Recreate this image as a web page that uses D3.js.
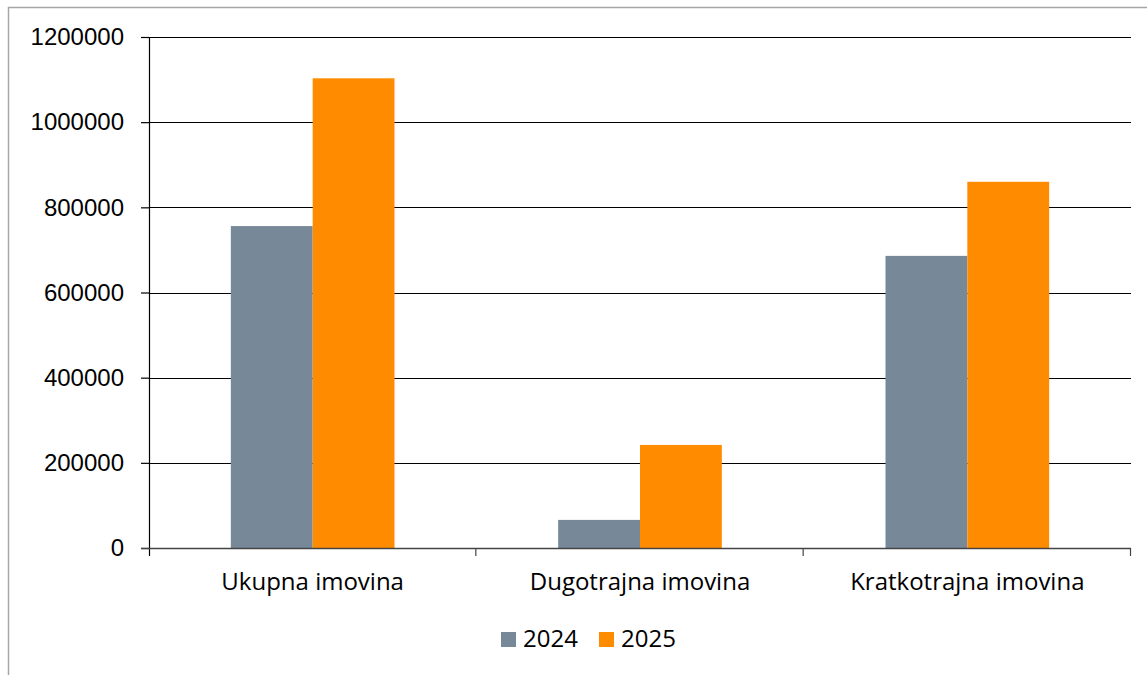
<!DOCTYPE html>
<html>
<head>
<meta charset="utf-8">
<script src="https://cdn.jsdelivr.net/npm/d3@7"></script>
<style>
  html, body { margin: 0; padding: 0; background: #fff; }
  svg { display: block; }
  .ytick { font-family: "Liberation Sans", Arial, sans-serif; font-size: 24px; fill: #000; }
  .xlab, .leg { font-family: "Open Sans", "Liberation Sans", sans-serif; font-size: 24px; fill: #000; }
</style>
</head>
<body>
<svg id="chart"></svg>
<script>
// ---------- Data ----------
const categories = ["Ukupna imovina", "Dugotrajna imovina", "Kratkotrajna imovina"];
const seriesNames = ["2024", "2025"];
const values2024 = [756000, 66000, 686000];
const values2025 = [1103000, 242000, 860000];
const yTicks = [0, 200000, 400000, 600000, 800000, 1000000, 1200000];
const colors = ["#778899", "#FF8C00"];

// ---------- Layout ----------
const W = 1147, H = 675;
const M = { t: 37, r: 16, b: 127, l: 149 };
const iw = W - M.l - M.r, ih = H - M.t - M.b;

const svg = d3.select("#chart").attr("width", W).attr("height", H);

// outer frame (top + left visible)
svg.append("rect").attr("x", 8.5).attr("y", 7.5).attr("width", W + 10).attr("height", H + 10)
  .attr("fill", "none").attr("stroke", "#a6a6a6").attr("stroke-width", 1.5);

const g = svg.append("g").attr("transform", `translate(${M.l},${M.t})`);

const x0 = d3.scaleBand().domain(categories).range([0, iw]).paddingInner(0).paddingOuter(0);
const x1 = d3.scaleBand().domain(seriesNames).range([0, x0.bandwidth()]).paddingInner(0).paddingOuter(1);
const y = d3.scaleLinear().domain([0, 1200000]).range([ih, 0]);

// gridlines
g.append("g").selectAll("line").data(yTicks.filter(d => d > 0)).enter().append("line")
  .attr("x1", 0).attr("x2", iw)
  .attr("y1", d => Math.round(y(d)) + 0.5).attr("y2", d => Math.round(y(d)) + 0.5)
  .attr("stroke", "#000").attr("stroke-width", 1.2);

// bars
const rows = categories.map((c, i) => ({ cat: c, vals: [values2024[i], values2025[i]] }));
const cat = g.selectAll(".cat").data(rows).enter().append("g")
  .attr("transform", d => `translate(${x0(d.cat)},0)`);
seriesNames.forEach((s, k) => {
  cat.append("rect")
    .attr("x", x1(s))
    .attr("width", x1.bandwidth())
    .attr("y", d => y(d.vals[k]))
    .attr("height", d => ih - y(d.vals[k]))
    .attr("fill", colors[k]);
});

// y axis
const yAxis = g.append("g").call(d3.axisLeft(y).tickValues(yTicks).tickSize(8).tickSizeOuter(0).tickFormat(d3.format("d")).tickPadding(17));
yAxis.select(".domain").attr("stroke", "#000").attr("stroke-width", 1.2);
yAxis.selectAll(".tick line").attr("stroke", "#000").attr("stroke-width", 1.2);
yAxis.selectAll(".tick text").attr("class", "ytick").attr("font-size", null).attr("font-family", null);
yAxis.select(".domain").attr("d", `M0.5,0V${ih + 8}`);

// x axis
const xg = g.append("g").attr("transform", `translate(0,${ih})`);
xg.append("line").attr("x1", -8).attr("x2", iw).attr("y1", 0.5).attr("y2", 0.5)
  .attr("stroke", "#444").attr("stroke-width", 1.5);
const edges = categories.map(c => x0(c)).concat([iw]);
xg.selectAll(".xt").data(edges.slice(1)).enter().append("line")
  .attr("x1", d => d - 0.5).attr("x2", d => d - 0.5).attr("y1", 0).attr("y2", 8)
  .attr("stroke", "#444").attr("stroke-width", 1.2);
xg.selectAll(".xlab").data(categories).enter().append("text")
  .attr("class", "xlab")
  .attr("x", d => x0(d) + x0.bandwidth() / 2)
  .attr("y", 42)
  .attr("text-anchor", "middle")
  .text(d => d);

// legend
const leg = svg.append("g").attr("transform", "translate(501,632)");
const legX = [0, 98];
seriesNames.forEach((s, k) => {
  leg.append("rect").attr("x", legX[k]).attr("y", 0).attr("width", 15).attr("height", 15).attr("fill", colors[k]);
  leg.append("text").attr("class", "leg").attr("x", legX[k] + 22).attr("y", 15).text(s);
});
</script>
</body>
</html>
